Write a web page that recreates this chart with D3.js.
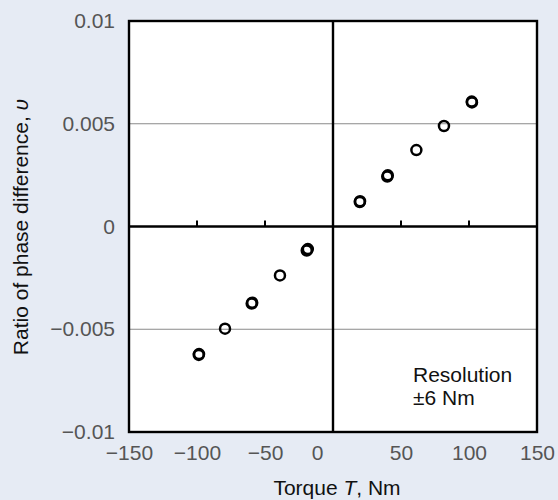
<!DOCTYPE html>
<html>
<head>
<meta charset="utf-8">
<script src="https://cdn.jsdelivr.net/npm/d3@7"></script>
<style>
  body { margin: 0; background: #e6ebf4; }
  svg { display: block; font-family: "Liberation Sans", Arial, Helvetica, sans-serif; }
</style>
</head>
<body>
<svg id="chart" width="558" height="500"></svg>
<script>
// Data
var torque = [19.9, 39.9, 61.3, 81.6, 102, -19.3, -39, -59.8, -79.4, -98.5];
var ratio = [0.00123, 0.00243, 0.00372, 0.00489, 0.00608,
             -0.00117, -0.00238, -0.00375, -0.00497, -0.00621];

// second run (points that sit almost on top of the first)
var torque2 = [19.7, 40.3, 102.2, -18.5, -59.4, -98.7];
var ratio2 = [0.00119, 0.00249, 0.00604, -0.00110, -0.00371, -0.00625];

var xTicks = [-150, -100, -50, 0, 50, 100, 150];
var yTicks = [-0.01, -0.005, 0, 0.005, 0.01];
var yTickLabels = ["\u22120.01", "\u22120.005", "0", "0.005", "0.01"];

var svg = d3.select("#chart");

// Plot box
var plot = { left: 129, right: 537, top: 21, bottom: 432 };

var x = d3.scaleLinear().domain([-150, 150]).range([plot.left, plot.right]);
var y = d3.scaleLinear().domain([-0.01, 0.01]).range([plot.bottom, plot.top]);

svg.append("rect")
  .attr("x", plot.left)
  .attr("y", plot.top)
  .attr("width", plot.right - plot.left)
  .attr("height", plot.bottom - plot.top)
  .attr("fill", "#fff");

// grid lines at +-0.005
svg.selectAll("line.grid")
  .data([-0.005, 0.005])
  .enter()
  .append("line")
  .attr("class", "grid")
  .attr("x1", plot.left)
  .attr("x2", plot.right)
  .attr("y1", d => y(d))
  .attr("y2", d => y(d))
  .attr("stroke", "#8a8a8a")
  .attr("stroke-width", 1);

// zero lines
svg.append("line")
  .attr("x1", plot.left).attr("x2", plot.right)
  .attr("y1", y(0)).attr("y2", y(0))
  .attr("stroke", "#000").attr("stroke-width", 2.4);

svg.append("line")
  .attr("x1", x(0)).attr("x2", x(0))
  .attr("y1", plot.top).attr("y2", plot.bottom)
  .attr("stroke", "#000").attr("stroke-width", 2.4);

// small ticks sitting on the zero line
svg.selectAll("line.ztick")
  .data([-100, -50, 50, 100])
  .enter()
  .append("line")
  .attr("class", "ztick")
  .attr("x1", d => x(d)).attr("x2", d => x(d))
  .attr("y1", y(0)).attr("y2", y(0) - 6)
  .attr("stroke", "#000").attr("stroke-width", 2);

// frame
svg.append("rect")
  .attr("x", plot.left)
  .attr("y", plot.top)
  .attr("width", plot.right - plot.left)
  .attr("height", plot.bottom - plot.top)
  .attr("fill", "none")
  .attr("stroke", "#000")
  .attr("stroke-width", 2.4);

// Axes (labels only)
var xAxis = svg.append("g")
  .attr("transform", `translate(0,${plot.bottom})`)
  .call(d3.axisBottom(x).tickValues(xTicks).tickSize(0).tickPadding(13));

var yAxis = svg.append("g")
  .attr("transform", `translate(${plot.left},0)`)
  .call(d3.axisLeft(y).tickValues(yTicks).tickSize(0).tickPadding(14)
    .tickFormat((d, i) => yTickLabels[i]));

[xAxis, yAxis].forEach(function(g) {
  g.select(".domain").remove();
  g.selectAll("text")
    .attr("fill", "#555")
    .style("font-size", "21px")
    .style("font-family", "Liberation Sans, Arial, sans-serif");
});

// the "0" label sits left of the vertical zero line
xAxis.selectAll(".tick text")
  .filter(d => d === 0)
  .attr("text-anchor", "end")
  .attr("dx", "-10");

// Points
function drawPoints(xs, ys) {
  svg.append("g")
    .selectAll("circle")
    .data(xs.map((d, i) => ({ t: d, v: ys[i] })))
    .enter()
    .append("circle")
    .attr("cx", d => x(d.t))
    .attr("cy", d => y(d.v))
    .attr("r", 5)
    .attr("fill", "none")
    .attr("stroke", "#000")
    .attr("stroke-width", 2.5);
}
drawPoints(torque, ratio);
drawPoints(torque2, ratio2);

// Note
var note = svg.append("text")
  .attr("x", 413)
  .attr("y", 382)
  .attr("fill", "#111")
  .style("font-size", "21px");
note.append("tspan").attr("x", 413).text("Resolution");
note.append("tspan").attr("x", 413).attr("dy", 23).text("\u00b16 Nm");

// Axis titles
var xt = svg.append("text")
  .attr("x", 337)
  .attr("y", 495)
  .attr("text-anchor", "middle")
  .attr("fill", "#111")
  .style("font-size", "21px");
xt.append("tspan").text("Torque ");
xt.append("tspan").style("font-style", "italic").text("T");
xt.append("tspan").text(", Nm");

var yt = svg.append("text")
  .attr("transform", "translate(28,227) rotate(-90)")
  .attr("text-anchor", "middle")
  .attr("fill", "#111")
  .style("font-size", "21px");
yt.append("tspan").text("Ratio of phase difference, ");
yt.append("tspan").style("font-style", "italic").text("\u03c5");
</script>
</body>
</html>
